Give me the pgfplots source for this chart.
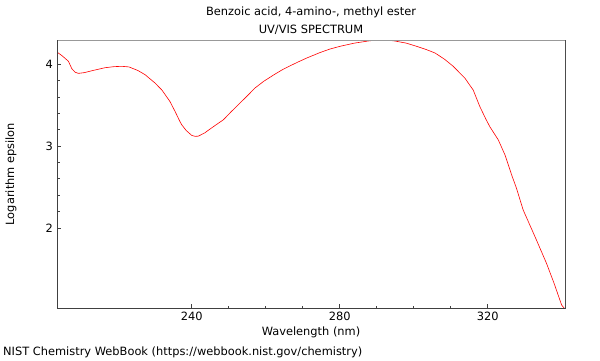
\documentclass[border=0pt]{standalone}
\usepackage{pgfplots}
\pgfplotsset{compat=1.18}
\usepackage{fontspec}
\setmainfont{DejaVu Sans}
\begin{document}
\fontsize{11.4}{13}\selectfont
\begin{tikzpicture}
\useasboundingbox (0pt,0pt) rectangle (600pt,360pt);
\begin{axis}[
  at={(57pt,52pt)}, anchor=south west,
  scale only axis, width=508.7pt, height=268pt,
  xmin=203.6, xmax=341.1, ymin=1.024, ymax=4.293,
  xtick={240,280,320}, minor x tick num=3,
  ytick={2,3,4}, minor y tick num=4,
  tick align=inside,
  xtick pos=bottom, ytick pos=left,
  major tick length=4pt, minor tick length=2.5pt,
  tick style={color=black!75, line width=0.6pt},
  /pgf/number format/assume math mode=true,
  tick label style={font=\fontsize{11.4}{13}\selectfont},
  axis line style={draw=none},
  clip=true,
]
\addplot[color=red, line width=0.6pt] coordinates {
(203.6,4.146) (205.0,4.10) (206.7,4.033) (207.6,3.943) (208.5,3.90)
(209.4,3.886) (211.0,3.895) (213.0,3.918) (216.6,3.955) (219.0,3.968)
(221.1,3.972) (223.0,3.965) (223.8,3.951) (225.5,3.92) (227.4,3.870)
(230.1,3.768) (232.0,3.68) (234.1,3.545) (235.5,3.423) (236.8,3.301)
(237.3,3.260) (238.5,3.19) (240.0,3.130) (240.9,3.118) (241.8,3.12)
(243.6,3.162) (244.1,3.179) (246.0,3.24) (248.6,3.321) (250.5,3.41)
(252.6,3.504) (255.0,3.61) (257.1,3.707) (259.5,3.79) (262.1,3.865)
(264.5,3.93) (266.6,3.978) (269.0,4.03) (271.1,4.073) (274.7,4.140)
(277.4,4.183) (280.1,4.216) (284.0,4.255) (288.2,4.284) (291.0,4.29)
(294.5,4.284) (298.0,4.255) (300.8,4.216) (303.5,4.175) (305.8,4.134)
(308.3,4.06) (310.7,3.972) (313.9,3.825) (315.2,3.740) (316.1,3.683)
(317.9,3.480) (319.5,3.33) (320.6,3.235) (322.9,3.073) (324.7,2.890)
(326.5,2.646) (327.8,2.484) (329.6,2.220) (332.8,1.894) (335.9,1.570)
(338.0,1.32) (340.0,1.060) (341.1,1.0)
};
\end{axis}
% frame
\draw[black!40, line width=0.9pt] (57pt,320pt) -- (565.7pt,320pt);
\draw[black!70, line width=0.9pt] (565.7pt,320pt) -- (565.7pt,52pt);
\draw[black!75, line width=0.9pt] (57pt,320pt) -- (57pt,52pt) -- (565.7pt,52pt);
% texts
\node[anchor=center, inner sep=0pt] at (311pt,347.5pt) {Benzoic acid, 4-amino-, methyl ester};
\node[anchor=center, inner sep=0pt] at (311pt,330pt) {UV/VIS SPECTRUM};
\node[anchor=center, inner sep=0pt] at (311pt,28pt) {Wavelength (nm)};
\node[anchor=center, inner sep=0pt, rotate=90] at (11pt,186pt) {Logarithm epsilon};
\node[anchor=west, inner sep=0pt] at (3pt,8pt) {NIST Chemistry WebBook (https://webbook.nist.gov/chemistry)};
\end{tikzpicture}
\end{document}
